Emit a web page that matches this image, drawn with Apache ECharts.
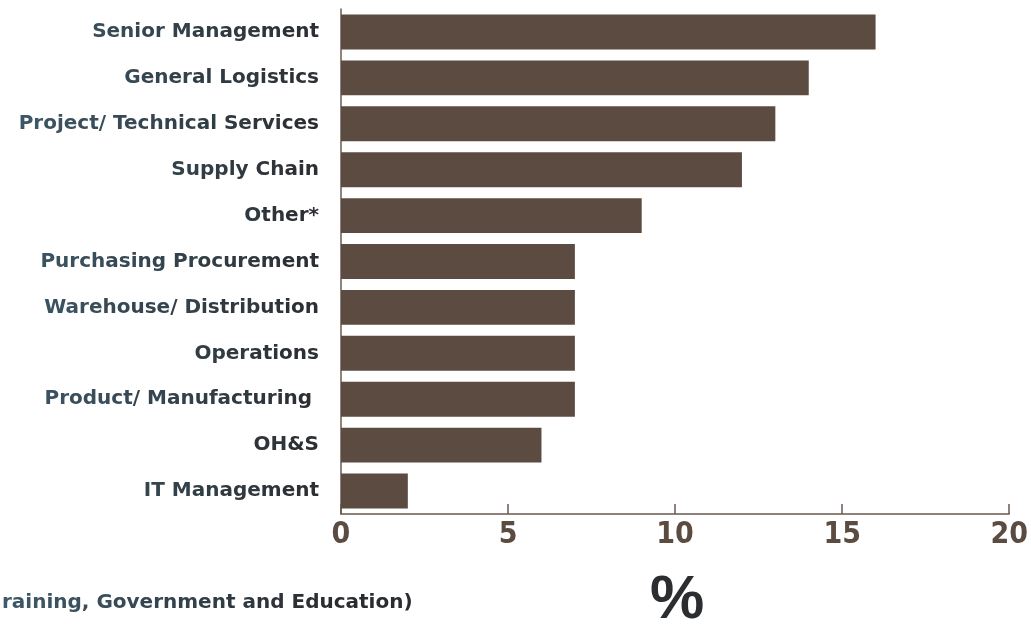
<!DOCTYPE html>
<html>
<head>
<meta charset="utf-8">
<script src="https://cdn.jsdelivr.net/npm/echarts@6/dist/echarts.min.js"></script>
<style>
  html, body { margin: 0; padding: 0; background: #ffffff; }
  #chart { width: 1031px; height: 624px; }
</style>
</head>
<body>
<div id="chart"></div>
<script>
// Job function of respondents, share in %
const categories = [
  'Senior Management',
  'General Logistics',
  'Project/ Technical Services',
  'Supply Chain',
  'Other*',
  'Purchasing Procurement',
  'Warehouse/ Distribution',
  'Operations',
  'Product/ Manufacturing ',
  'OH&S',
  'IT Management'
];
const values = [16, 14, 13, 12, 9, 7, 7, 7, 7, 6, 2];
const xMin = 0, xMax = 20, xStep = 5;
const footnote = 'raining, Government and Education)';
const unitLabel = '%';

const BAR = '#5b4b41';
const AXIS = '#6a5a4f';
const LABEL_FONT = 'DejaVu Sans';
const LABEL_SIZE = 20;

// Text shading: slate blue on the left fading to near-black on the right
const SHADES = 12;
const fromRGB = [62, 90, 106], toRGB = [42, 44, 47];
const rich = {};
for (let i = 0; i < SHADES; i++) {
  const t = i / (SHADES - 1);
  const c = fromRGB.map((a, k) => Math.round(a + (toRGB[k] - a) * t));
  const col = 'rgb(' + c.join(',') + ')';
  rich['s' + i] = { color: col, fill: col };
}
const measurer = document.createElement('canvas').getContext('2d');
measurer.font = 'bold ' + LABEL_SIZE + 'px "' + LABEL_FONT + '"';

function shadeIndex(x) {
  const t = Math.max(0, Math.min(1, x / 330));
  return Math.round(t * (SHADES - 1));
}
// Build rich text where each run of characters gets a shade by its page x
function shadedText(text, leftX) {
  let out = '', run = '', runIdx = -1, x = leftX;
  for (const ch of text) {
    const w = measurer.measureText(ch).width;
    const idx = shadeIndex(x + w / 2);
    if (idx !== runIdx && run) { out += '{s' + runIdx + '|' + run + '}'; run = ''; }
    runIdx = idx; run += ch; x += w;
  }
  if (run) out += '{s' + runIdx + '|' + run + '}';
  return out;
}

const chart = echarts.init(document.getElementById('chart'), null, { renderer: 'canvas' });
const LABEL_RIGHT = 319;

chart.setOption({
  animation: false,
  backgroundColor: '#ffffff',
  grid: { left: 341, right: 20, top: 9, bottom: 110, containLabel: false },
  xAxis: {
    type: 'value',
    min: xMin, max: xMax, interval: xStep,
    splitLine: { show: false },
    axisLine: { show: true, lineStyle: { color: AXIS, width: 1.5 } },
    axisTick: { show: true, inside: true, length: 10, lineStyle: { color: AXIS, width: 1.5 } },
    axisLabel: {
      margin: 6,
      color: BAR,
      fontFamily: '"Liberation Sans Narrow", "DejaVu Sans Condensed", sans-serif',
      fontWeight: 'bold',
      fontSize: 30
    }
  },
  yAxis: {
    type: 'category',
    inverse: true,
    data: categories,
    axisLine: { show: true, lineStyle: { color: AXIS, width: 1.5 } },
    axisTick: { show: false },
    axisLabel: {
      margin: 341 - LABEL_RIGHT,
      fontFamily: LABEL_FONT,
      fontWeight: 'bold',
      fontSize: LABEL_SIZE,
      rich: rich,
      formatter: function (v) {
        const w = measurer.measureText(v).width;
        return shadedText(v, LABEL_RIGHT - w);
      }
    }
  },
  series: [{
    type: 'bar',
    data: values,
    barCategoryGap: '24%',
    itemStyle: { color: BAR },
    silent: true
  }],
  graphic: [
    {
      type: 'text',
      left: 2,
      top: 593,
      style: {
        text: shadedText(footnote, 2),
        rich: rich,
        font: 'bold ' + LABEL_SIZE + 'px "' + LABEL_FONT + '"'
      }
    },
    {
      type: 'text',
      x: 677,
      y: 601,
      style: {
        text: unitLabel,
        fill: '#2b2e31',
        font: 'bold 61px "Liberation Sans"',
        textAlign: 'center',
        textVerticalAlign: 'middle'
      }
    }
  ]
});
</script>
</body>
</html>
